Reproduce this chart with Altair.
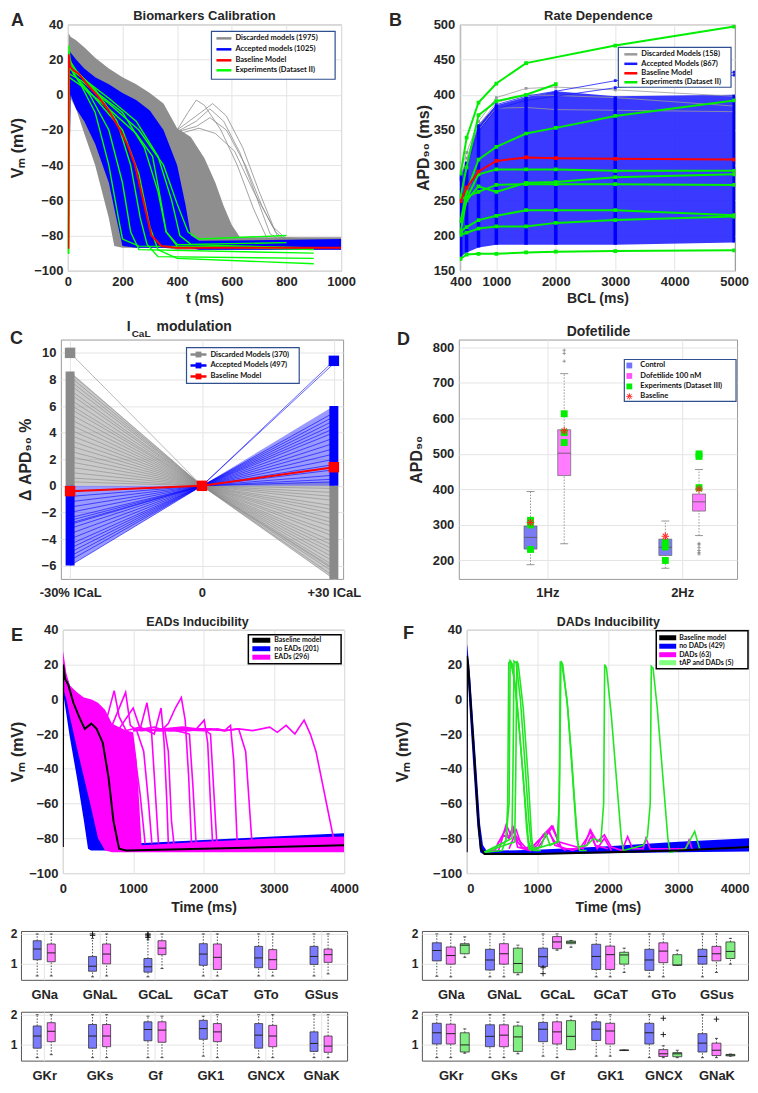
import altair as alt
import pandas as pd

FONT = "Liberation Sans"
LFONT = "Lato"
INK = "#262626"
LEGBOX = "#2f4f8f"
HLINE = "M-1,0L1,0"
PLUS = "M-1,0L1,0M0,-1L0,1"
AST = ("M-1,-0.14H1V0.14H-1Z M-0.14,-1H0.14V1H-0.14Z "
       "M-0.615,-0.785L0.785,0.615L0.615,0.785L-0.785,-0.615Z "
       "M-0.615,0.785L0.785,-0.615L0.615,-0.785L-0.785,0.615Z")

# ---------------- A: Biomarkers Calibration ----------------
A_GROUPS = ["Discarded models (1975)", "Accepted models (1025)", "Baseline Model", "Experiments (Dataset II)"]
A_COLORS = ["#8c8c8c", "#0000ff", "#ff0000", "#00ff00"]
A_GREY_T = [0, 3, 10, 30, 60, 100, 150, 170, 200, 250, 300, 350, 400, 450, 500, 540, 570, 600, 630, 700, 1000]
A_GREY_LO = [-88, -88, -2, -8, -22, -40, -70, -86, -87, -87, -87, -87, -88, -88, -88, -88, -88, -88, -88, -88, -88]
A_GREY_HI = [-80, 35, 33, 31, 27, 21, 15, 13, 10, 6, 1, -5, -19, -24, -36, -50, -63, -74, -81, -81, -81]
A_BLUE_T = [0, 3, 10, 30, 60, 100, 150, 180, 200, 250, 300, 350, 400, 430, 450, 480, 1000]
A_BLUE_LO = [-87, -87, 0, -8, -15, -28, -50, -72, -86, -87, -87, -87, -87, -87, -87, -88, -88]
A_BLUE_HI = [-87, 25, 24, 20, 15, 10, 6, 3, 1, -3, -9, -20, -40, -62, -80, -83, -82]
A_LATE_T = [
    [400, 440, 470, 500, 560, 620, 680, 730, 1000],
    [400, 470, 530, 580, 640, 700, 760, 800, 1000],
    [400, 470, 520, 570, 630, 690, 740, 780, 1000],
    [400, 470, 520, 580, 650, 710, 770, 1000],
    [410, 480, 540, 610, 680, 750, 800, 1000],
]
A_LATE_V = [
    [-20, -10, -3, -6, -20, -40, -65, -82, -83],
    [-20, -12, -5, -12, -30, -55, -78, -83, -83],
    [-21, -15, -8, -15, -33, -58, -79, -83, -83],
    [-21, -18, -13, -20, -40, -63, -81, -83],
    [-22, -19, -22, -32, -55, -75, -82, -83],
]
A_EXP_T = [
    [0, 2, 4, 10, 50, 100, 150, 185, 200, 260, 900],
    [0, 2, 4, 20, 80, 150, 200, 230, 260, 900],
    [0, 2, 4, 20, 100, 180, 230, 265, 290, 330, 900],
    [0, 2, 4, 30, 100, 200, 260, 300, 330, 400, 900],
    [0, 2, 4, 30, 100, 200, 280, 330, 360, 400, 900],
    [0, 2, 4, 50, 150, 250, 330, 380, 410, 450, 800],
    [0, 2, 4, 50, 150, 260, 350, 400, 440, 480, 800],
    [0, 2, 4, 50, 150, 250, 310, 340, 360, 400, 900],
]
A_EXP_V = [
    [-90, -90, 28, 15, 5, -10, -40, -70, -82, -86, -87],
    [-90, -90, 20, 12, 0, -20, -50, -78, -88, -90],
    [-90, -90, 22, 15, 3, -15, -40, -70, -85, -92, -93],
    [-90, -90, 18, 10, -2, -20, -45, -75, -88, -93, -96],
    [-90, -90, 20, 14, 2, -10, -30, -55, -78, -86, -88],
    [-90, -90, 15, 10, -2, -15, -35, -60, -80, -85, -84],
    [-90, -90, 12, 8, -5, -20, -40, -62, -78, -82, -80],
    [-90, -90, 10, 5, -8, -22, -35, -60, -78, -85, -87],
]
A_RED_T = [0, 2, 3, 8, 20, 40, 70, 106, 150, 191, 220, 246, 276, 306, 343, 400, 1000]
A_RED_V = [-87, -87, 23, 16, 14, 12, 6, 0, -9, -20, -29, -40, -60, -80, -86, -87, -87]

# ---------------- B: Rate Dependence ----------------
B_GROUPS = ["Discarded Models (158)", "Accepted Models (867)", "Baseline Model", "Experiments (Dataset II)"]
B_COLORS = ["#9a9a9a", "#1a1aff", "#ff0000", "#00ee00"]
B_BCL = [400, 500, 700, 1000, 1500, 2000, 3000, 5000]
B_BLUE_LO = [170, 176, 183, 187, 187, 187, 187, 190]
B_BLUE_HI = [287, 305, 358, 385, 397, 405, 398, 400]
B_GREY = [
    [292, 318, 362, 396, 409, 411, 407, 398],
    [284, 310, 356, 389, 400, 399, 396, 384],
    [278, 303, 350, 381, 382, 379, 378, 376],
]
B_BLUE_LINES = [
    [282, 300, 352, 386, 398, 405, 420, 432],
    [280, 298, 348, 380, 392, 398, 410, 428],
]
B_EXP = [
    [288, 339, 389, 416, 445, None, 470, 497],
    [256, 297, 371, 391, 400, 415, None, None],
    [221, 262, 308, 326, 345, 353, 370, 392],
    [205, 253, 287, 294, 294, 294, 292, 292],
    [220, 250, 270, 262, 275, 276, 283, 287],
    [252, 255, 262, 272, 273, 273, 273, 272],
    [206, 212, 222, 228, 236, 236, 236, 229],
    [201, 204, 210, 213, 213, 218, 222, 227],
    [167, 173, 174, 174, 176, 177, 178, 179],
]
B_RED = [249, 268, 291, 306, 311, 310, 309, 308]

# ---------------- C: ICaL modulation ----------------
C_GROUPS = ["Discarded Models (370)", "Accepted Models (497)", "Baseline Model"]
C_COLORS = ["#8a8a8a", "#0000ff", "#ff0000"]
C_POS = [-1, 0, 1]
C_GREY_L = [10, 8.5, 8.2, 7.9, 7.6, 7.2, 6.9, 6.5, 6.1, 5.8, 5.4, 5.0, 4.6, 4.2, 3.8, 3.4, 3.0, 2.6, 2.2, 1.8, 1.4, 1.0, 0.6, 0.3]
C_GREY_R = [-6.2, -7.0, -6.8, -6.5, -6.3, -6.0, -5.7, -5.4, -5.1, -4.8, -4.5, -4.2, -3.8, -3.5, -3.1, -2.8, -2.5, -2.1, -1.8, -1.5, -1.1, -0.8, -0.5, -0.2]
C_BLUE_L = [-6.0, -5.6, -5.3, -5.0, -4.7, -4.4, -4.0, -3.6, -3.2, -2.8, -2.4, -2.0, -1.6, -1.2, -0.8, -0.4, -2.6, -2.9]
C_BLUE_R = [5.5, 5.2, 4.9, 4.6, 4.3, 4.0, 3.6, 3.2, 2.8, 2.4, 2.0, 1.6, 1.2, 0.8, 0.5, 0.3, 9.2, 9.4]
C_RED = [-0.4, 0, 1.4]
C_FAN_GREY = [([-1, 0], [0, 0], [8.6, 0]), ([0, 1], [0, -7], [0, 0.3])]
C_FAN_BLUE = [([-1, 0], [-6, 0], [0, 0]), ([0, 1], [0, 0], [0, 6])]
C_BAR_X = [-1, -1, 1, 1]
C_BAR_LO = [0, -6, 0, -7]
C_BAR_HI = [8.6, 0, 6, 0]
C_BAR_G = [0, 1, 1, 0]
C_SQ_X = [-1, 1, -1, 0, 1]
C_SQ_Y = [10, 9.4, -0.4, 0, 1.4]
C_SQ_G = [0, 1, 2, 2, 2]

# ---------------- D: Dofetilide ----------------
D_GROUPS = ["Control", "Dofetilide 100 nM", "Experiments (Dataset III)", "Baseline"]
D_COLORS = ["#7373ff", "#ff55ff", "#00ee00", "#ff2020"]
D_HZ = [1, 1, 2, 2]
D_GRP = ["Control", "Dofetilide 100 nM", "Control", "Dofetilide 100 nM"]
D_Q1 = [232, 439, 214, 339]
D_MED = [265, 502, 237, 365]
D_Q3 = [297, 568, 260, 387]
D_LO = [188, 247, 178, 270]
D_HI = [394, 726, 311, 456]
D_OUT_HZ = [1, 1, 1, 2, 2, 2, 2, 2, 2]
D_OUT_V = [761, 783, 792, 248, 244, 236, 228, 222, 218]
D_EXP_HZ = [1, 1, 1, 1, 1, 1, 1, 2, 2, 2, 2, 2, 2, 2]
D_EXP_G = ["Control"] * 4 + ["Dofetilide 100 nM"] * 3 + ["Control"] * 4 + ["Dofetilide 100 nM"] * 3
D_EXP_V = [313, 305, 300, 231, 613, 560, 532, 250, 243, 238, 200, 500, 493, 405]
D_BASE_HZ = [1, 1, 2, 2]
D_BASE_G = ["Control", "Dofetilide 100 nM", "Control", "Dofetilide 100 nM"]
D_BASE_V = [307, 565, 268, 401]

# ---------------- E: EADs ----------------
E_GROUPS = ["Baseline model", "no EADs (201)", "EADs (296)"]
E_COLORS = ["#000000", "#0000ff", "#ff00ff"]
E_BLUE_T = [0, 3, 10, 100, 200, 300, 358, 400, 450, 500, 570, 700, 1000, 2000, 3000, 4000]
E_BLUE_LO = [-85, -85, 2, -22, -45, -70, -86, -87, -87, -87, -87, -87, -87, -87, -87, -87]
E_BLUE_HI = [-85, 20, 18, 8, -2, -15, -22, -24, -35, -60, -84, -84, -83, -81, -79, -77]
E_MAG_T = [0, 3, 10, 50, 100, 200, 300, 400, 500, 600, 700, 900, 1000, 1050, 1120, 2000, 3000, 4000]
E_MAG_LO = [-85, -85, 5, 0, -10, -28, -45, -62, -80, -87, -88, -88, -88, -88, -88, -88, -88, -88]
E_MAG_HI = [-85, 28, 26, 15, 8, 4, 1, 0, -2, -6, -14, -18, -19, -35, -84, -82, -80, -79]
E_EAD_T = [
    [600, 730, 800, 900, 1000, 1100, 1170],
    [700, 893, 960, 1050, 1150, 1220, 1266],
    [800, 1000, 1100, 1196, 1260, 1310, 1360],
    [900, 1100, 1300, 1397, 1440, 1480, 1500],
    [1000, 1300, 1450, 1500, 1545, 1580],
    [1000, 1400, 1500, 1600, 1685, 1740, 1790, 1830],
    [1100, 1500, 1700, 1800, 1850, 1895],
    [1200, 1700, 1900, 2011, 2060, 2100, 2130],
    [1300, 1800, 2000, 2100, 2150, 2190],
    [1400, 2000, 2200, 2300, 2384, 2430, 2480],
    [1500, 2100, 2300, 2500, 2600, 2690],
    [1000, 1500, 2000, 2300, 2500, 2700, 2942, 3050, 3175, 3300, 3431, 3520, 3600, 3700, 3800, 3850],
]
E_EAD_V = [
    [-15, 5, -10, -18, -25, -55, -83],
    [-15, 4, -15, -18, -30, -60, -83],
    [-17, -5, -17, -2, -18, -50, -83],
    [-18, -16, -20, -5, -25, -60, -83],
    [-18, -16, -18, -30, -70, -83],
    [-17, -18, -14, -5, 1, -12, -45, -83],
    [-18, -17, -19, -20, -50, -83],
    [-18, -16, -17, -12, -25, -60, -83],
    [-18, -18, -17, -20, -55, -83],
    [-17, -18, -17, -18, -15, -35, -83],
    [-18, -17, -18, -17, -30, -83],
    [-18, -17, -17, -18, -17, -18, -16, -19, -15, -20, -12, -20, -30, -50, -70, -80],
]
E_BASE_T = [0, 5, 30, 80, 150, 230, 312, 405, 480, 568, 650, 720, 800, 900, 2000, 3000, 4000]
E_BASE_V = [-85, 20, 12, 8, -2, -10, -17, -14, -17, -25, -45, -70, -86, -87, -86, -85, -84]

# ---------------- F: DADs ----------------
F_GROUPS = ["Baseline model", "no DADs (429)", "DADs (63)", "tAP and DADs (5)"]
F_COLORS = ["#000000", "#0000ff", "#ff00ff", "#22e622"]
F_LEG_COLORS = ["#000000", "#0000ff", "#ff00ff", "#80ff80"]
F_BLUE_T = [0, 3, 10, 50, 100, 150, 190, 230, 280, 500, 1000, 2000, 3000, 4000]
F_BLUE_LO = [-88, -88, 15, -12, -43, -73, -88, -89, -89, -89, -89, -88.5, -88, -87.5]
F_BLUE_HI = [-88, 32, 30, 12, -18, -48, -72, -84, -87, -87, -86.5, -84.5, -82, -80]
F_BASE_T = [0, 3, 20, 60, 110, 160, 200, 250, 1000, 2000, 3000, 4000]
F_BASE_V = [-88, 25, 20, -5, -35, -68, -86, -89, -89, -88, -87, -85]
F_DAD_T = [
    [250, 400, 450, 500, 560, 620, 700, 780, 900, 1000, 1100, 1200, 1280, 1350, 1600, 1700, 1760, 1820, 2000],
    [400, 480, 550, 600, 660, 720, 800, 950, 1050, 1150, 1250, 1400],
    [600, 680, 760, 850, 1000, 1100, 1220, 1300, 1650, 1750, 1850, 1950, 2050, 2200, 2280, 2350, 2500, 2540, 2600, 3100, 3150, 3200],
    [450, 520, 600, 650, 720, 900, 1000, 1080, 1160, 1250, 1500, 1700, 1760, 1850, 1950, 2050],
]
F_DAD_V = [
    [-88, -87, -82, -80, -72, -78, -75, -85, -87, -82, -78, -73, -80, -86, -86, -80, -76, -84, -86],
    [-87, -80, -75, -80, -74, -82, -86, -84, -80, -76, -82, -87],
    [-86, -78, -82, -86, -86, -80, -73, -82, -86, -75, -82, -78, -85, -87, -79, -86, -86, -80, -86, -86, -81, -87],
    [-87, -78, -80, -73, -85, -87, -84, -78, -75, -84, -87, -84, -79, -86, -80, -87],
]
F_TAP_T = [
    [250, 500, 560, 580, 595, 620, 680, 750, 820, 870, 900, 1050, 1120, 1180, 1280, 1310, 1325, 1350, 1420, 1480,
     1540, 1580, 1700, 1800, 1900, 1940, 1955, 1980, 2050, 2120, 2190, 2220, 2500, 2560, 2600, 2615, 2640, 2700,
     2780, 2850, 2880, 3100, 3230, 3300],
    [250, 550, 600, 615, 650, 720, 800, 850, 880, 1000],
    [250, 640, 655, 670, 700, 760, 830, 880, 920, 1000],
    [250, 680, 695, 710, 730, 800, 870, 920, 950, 1050],
    [900, 1300, 1318, 1335, 1360, 1430, 1500, 1560, 1600, 1700],
]
F_TAP_V = [
    [-88, -87, -80, -60, 21, 22, 10, -20, -55, -80, -86, -85, -77, -84, -82, -60, 21, 20, 0, -30,
     -65, -85, -84, -80, -82, -60, 20, 18, -10, -45, -80, -87, -84, -79, -60, 19, 18, -5,
     -45, -80, -88, -86, -76, -86],
    [-88, -82, -60, 22, 20, -5, -45, -75, -86, -87],
    [-88, -80, -40, 22, 21, 0, -40, -70, -86, -87],
    [-88, -82, -40, 22, 20, -5, -45, -80, -87, -87],
    [-87, -82, -40, 22, 20, -5, -45, -80, -87, -87],
]

# ---------------- Conductance box plots ----------------
S1_CATS = ["GNa", "GNaL", "GCaL", "GCaT", "GTo", "GSus"]
S2_CATS = ["GKr", "GKs", "Gf", "GK1", "GNCX", "GNaK"]
L_GROUPS = ["no EADs", "EADs"]
R_GROUPS = ["no DADs", "DADs", "tAP and DADs"]
L1_BLUE = dict(q1=[1.13, 0.74, 0.71, 0.94, 0.86, 0.97], med=[1.49, 0.91, 0.89, 1.32, 1.19, 1.24],
               q3=[1.77, 1.24, 1.17, 1.67, 1.58, 1.58], lo=[0.58, 0.55, 0.55, 0.58, 0.58, 0.58],
               hi=[2.0, 1.85, 1.8, 2.0, 2.0, 2.0])
L1_PINK = dict(q1=[1.06, 0.99, 1.30, 0.80, 0.80, 1.04], med=[1.36, 1.32, 1.52, 1.21, 1.13, 1.30],
               q3=[1.66, 1.66, 1.77, 1.66, 1.47, 1.49], lo=[0.58, 0.58, 0.83, 0.58, 0.58, 0.65],
               hi=[2.0, 2.0, 2.0, 2.0, 2.0, 2.0])
L1_OUT_CAT = [2, 2, 3, 3, 3, 3]
L1_OUT_GRP = ["no EADs", "no EADs", "no EADs", "no EADs", "no EADs", "no EADs"]
L1_OUT_V = [1.95, 2.0, 1.88, 1.93, 1.97, 2.0]
L2_BLUE = dict(q1=[0.87, 0.87, 1.12, 1.17, 0.87, 0.76], med=[1.28, 1.28, 1.50, 1.53, 1.31, 1.03],
               q3=[1.62, 1.67, 1.76, 1.81, 1.70, 1.42], lo=[0.55, 0.55, 0.55, 0.60, 0.55, 0.55],
               hi=[2.0, 2.0, 1.95, 1.95, 2.0, 2.0])
L2_PINK = dict(q1=[1.09, 0.92, 1.07, 1.09, 0.92, 0.73], med=[1.44, 1.28, 1.48, 1.42, 1.28, 0.94],
               q3=[1.73, 1.67, 1.76, 1.70, 1.64, 1.28], lo=[0.65, 0.55, 0.55, 0.55, 0.55, 0.55],
               hi=[2.0, 2.0, 1.95, 2.0, 2.0, 2.0])
R1_BLUE = dict(q1=[1.09, 0.78, 0.90, 0.80, 0.77, 0.98], med=[1.44, 1.12, 1.23, 1.24, 1.12, 1.24],
               q3=[1.70, 1.48, 1.52, 1.65, 1.48, 1.48], lo=[0.57, 0.55, 0.90, 0.55, 0.55, 0.55],
               hi=[2.0, 2.0, 2.0, 2.0, 2.0, 2.0])
R1_PINK = dict(q1=[0.98, 0.98, 1.50, 0.80, 1.03, 1.09], med=[1.27, 1.33, 1.73, 1.30, 1.42, 1.33],
               q3=[1.56, 1.67, 1.91, 1.59, 1.70, 1.58], lo=[0.55, 0.55, 1.45, 0.55, 0.55, 0.70],
               hi=[2.0, 2.0, 2.0, 2.0, 2.0, 2.0])
R1_GREEN = dict(q1=[1.33, 0.69, 1.67, 0.98, 0.94, 1.17], med=[1.62, 1.00, 1.72, 1.29, 0.95, 1.41],
                q3=[1.67, 1.52, 1.76, 1.38, 1.30, 1.73], lo=[1.21, 0.62, 1.55, 0.70, 0.94, 0.98],
                hi=[1.90, 1.62, 1.78, 1.52, 1.45, 1.85])
R1_OUT_CAT = [3, 3]
R1_OUT_GRP = ["no DADs", "no DADs"]
R1_OUT_V = [0.86, 0.66]
R2_BLUE = dict(q1=[1.01, 0.92, 1.09, 1.13, 1.01, 0.74], med=[1.39, 1.27, 1.51, 1.51, 1.39, 1.04],
               q3=[1.71, 1.66, 1.74, 1.76, 1.71, 1.36], lo=[0.55, 0.55, 0.60, 0.60, 0.55, 0.55],
               hi=[2.0, 2.0, 2.0, 2.0, 2.0, 2.0])
R2_PINK = dict(q1=[1.01, 0.92, 1.01, 1.01, 0.59, 0.62], med=[1.36, 1.31, 1.42, 1.45, 0.68, 0.80],
               q3=[1.68, 1.66, 1.76, 1.71, 0.82, 1.04], lo=[0.55, 0.55, 0.55, 0.60, 0.55, 0.55],
               hi=[2.0, 2.0, 2.0, 2.0, 0.95, 1.20])
R2_GREEN = dict(q1=[0.74, 0.76, 0.82, 0.79, 0.58, 0.61], med=[0.98, 1.25, 1.27, 0.80, 0.68, 0.64],
                q3=[1.39, 1.62, 1.80, 0.81, 0.72, 0.66], lo=[0.70, 0.68, 0.82, 0.79, 0.55, 0.60],
                hi=[1.52, 1.75, 1.95, 0.81, 0.80, 0.67])
R2_OUT_CAT = [5, 5, 6]
R2_OUT_GRP = ["DADs", "DADs", "DADs"]
R2_OUT_V = [1.33, 1.88, 1.85]


# ================= helpers =================
def tr(xs_list, ys_list, grp):
    rows = []
    for k, (xs, ys) in enumerate(zip(xs_list, ys_list)):
        for i, (a, b) in enumerate(zip(xs, ys)):
            if b is None:
                continue
            rows.append({"x": a, "y": b, "id": f"{grp}-{k}", "grp": grp, "o": i})
    return pd.DataFrame(rows)


def env(xs, lo, hi):
    return pd.DataFrame({"x": xs, "y": lo, "y2": hi})


def X(dom, values, title=None, field="x", **kw):
    ax = dict(title=title, values=values, labelFlush=False, labelPadding=5, titlePadding=3, grid=True, format="d")
    ax.update(kw)
    return alt.X(f"{field}:Q", scale=alt.Scale(domain=dom, nice=False, zero=False), axis=alt.Axis(**ax))


def Y(dom, values, title=None, field="y", **kw):
    ax = dict(title=title, values=values, labelPadding=5, titlePadding=6, grid=True)
    ax.update(kw)
    return alt.Y(f"{field}:Q", scale=alt.Scale(domain=dom, nice=False, zero=False), axis=alt.Axis(**ax))


ONE = pd.DataFrame({"k": [0]})


def note(s, x, y, size=18, baseline="top", align="left", opacity=1, font=FONT, color=INK):
    return alt.Chart(pd.DataFrame({"s": [s]})).mark_text(
        font=font, fontSize=size, fontWeight="bold", color=color, align=align, baseline=baseline, opacity=opacity
    ).encode(text="s:N", x=alt.value(x), y=alt.value(y))


def head(s, x, y, size):
    return note(s, x, y, size=size, baseline="alphabetic", align="center")


def spacer(y):
    return note(".", 0, y, size=2, opacity=0)


def legend(box, labels, colors, kinds, ys, sx, tx, fs=7.5, stroke=LEGBOX, sw=1.2, lw=2.5):
    """Hand-drawn legend box; positions in pixels relative to the panel's plot area."""
    x0, x1, y0, y1 = box
    out = [alt.Chart(ONE).mark_rect(fill="white", stroke=stroke, strokeWidth=sw).encode(
        x=alt.value(x0), x2=alt.value(x1), y=alt.value(y0), y2=alt.value(y1))]
    for lab, col, kind, yy in zip(labels, colors, kinds, ys):
        if kind in ("line", "linesq"):
            out.append(alt.Chart(ONE).mark_rule(color=col, strokeWidth=lw).encode(
                x=alt.value(sx[0]), x2=alt.value(sx[1]), y=alt.value(yy)))
        if kind in ("linesq", "square"):
            out.append(alt.Chart(ONE).mark_square(color=col, size=34, opacity=1).encode(
                x=alt.value((sx[0] + sx[1]) / 2), y=alt.value(yy)))
        if kind == "ast":
            out.append(alt.Chart(ONE).mark_point(shape=AST, color=col, size=40, filled=True, opacity=1).encode(
                x=alt.value((sx[0] + sx[1]) / 2), y=alt.value(yy)))
        out.append(note(lab, tx, yy, size=fs, baseline="middle", font=LFONT, color="#111"))
    return out


def anchor():
    """Invisible 1px cell that starts every row, so rows line up by their outer left edge."""
    return alt.Chart(ONE).mark_rule(opacity=0, strokeWidth=0.1).encode(
        x=alt.value(0.5), y=alt.value(0), y2=alt.value(1)
    ).properties(width=1, height=1, view=alt.ViewBackground(strokeOpacity=0))


# ================= Panel A =================
xa = lambda: X([0, 1000], [0, 200, 400, 600, 800, 1000], "t (ms)", titleFontSize=14)
ya = lambda: Y([-100, 40], list(range(-100, 41, 20)), "Vₘ (mV)", titleFontSize=16, titlePadding=8)
colA = alt.Color("grp:N", scale=alt.Scale(domain=A_GROUPS, range=A_COLORS), legend=None)
A = alt.layer(
    alt.Chart(env(A_GREY_T, A_GREY_LO, A_GREY_HI)).mark_area(color="#8e8e8e", clip=True).encode(x=xa(), y=ya(), y2="y2:Q"),
    alt.Chart(tr(A_LATE_T, A_LATE_V, A_GROUPS[0])).mark_line(strokeWidth=0.8, clip=True).encode(
        x=xa(), y=ya(), detail="id:N", order="o:Q", color=colA),
    alt.Chart(env(A_BLUE_T, A_BLUE_LO, A_BLUE_HI)).mark_area(color="#0000ff", clip=True).encode(x=xa(), y=ya(), y2="y2:Q"),
    alt.Chart(tr(A_EXP_T, A_EXP_V, A_GROUPS[3])).mark_line(strokeWidth=1.4, clip=True).encode(
        x=xa(), y=ya(), detail="id:N", order="o:Q", color=colA),
    alt.Chart(tr([A_RED_T], [A_RED_V], A_GROUPS[2])).mark_line(strokeWidth=2, clip=True).encode(
        x=xa(), y=ya(), detail="id:N", order="o:Q", color=colA),
    *legend((144, 268, 7, 55), A_GROUPS, A_COLORS, ["line"] * 4, [14, 25, 36, 46], (149, 164), 168),
    note("A", -57, -12),
    head("Biomarkers Calibration", 137, -4, 13),
    spacer(287),
).properties(width=274, height=247)

# ================= Panel B =================
xb = lambda: X([385, 5015], [400, 1000, 2000, 3000, 4000, 5000], "BCL (ms)", titleFontSize=14)
yb = lambda: Y([150, 500], list(range(150, 501, 50)), "APD₉₀ (ms)", titleFontSize=16, titlePadding=2)
colB = alt.Color("grp:N", scale=alt.Scale(domain=B_GROUPS, range=B_COLORS), legend=None)


def bline(rows, grp, sw, ps):
    return alt.Chart(tr([B_BCL] * len(rows), rows, grp)).mark_line(
        strokeWidth=sw, clip=True, point=alt.OverlayMarkDef(shape="square", size=ps, filled=True)
    ).encode(x=xb(), y=yb(), detail="id:N", order="o:Q", color=colB)


B = alt.layer(
    alt.Chart(env(B_BCL, B_BLUE_LO, B_BLUE_HI)).mark_area(color="#2424ff", opacity=0.9, clip=True).encode(x=xb(), y=yb(), y2="y2:Q"),
    bline(B_GREY, B_GROUPS[0], 0.8, 8),
    bline(B_BLUE_LINES, B_GROUPS[1], 0.8, 8),
    alt.Chart(env(B_BCL, B_BLUE_LO, B_BLUE_HI)).mark_rule(color="#0000ff", strokeWidth=3.5, clip=True).encode(x=xb(), y=yb(), y2="y2:Q"),
    bline(B_EXP, B_GROUPS[3], 2, 14),
    bline([B_RED], B_GROUPS[2], 2, 14),
    *legend((159, 272, 23, 63), B_GROUPS, B_COLORS, ["line"] * 4, [30, 39.5, 49, 58], (165, 178), 182),
    note("B", -71, -12),
    head("Rate Dependence", 139, -4, 13),
).properties(width=276, height=247)

# ================= Panel C =================
xc = lambda: X([-1.07, 1.07], [-1, 0, 1], None, labelPadding=8, format="",
               labelExpr="datum.value < 0 ? '-30% ICaL' : (datum.value > 0 ? '+30 ICaL' : '0')")
yc = lambda: Y([-7, 11], list(range(-6, 11, 2)), "Δ APD₉₀ %", titleFontSize=16, titlePadding=8)
colC = alt.Color("grp:N", scale=alt.Scale(domain=C_GROUPS, range=C_COLORS), legend=None)


def fan(parts, color):
    return [alt.Chart(env(*p)).mark_area(color=color, opacity=0.45, clip=True).encode(x=xc(), y=yc(), y2="y2:Q")
            for p in parts]


def cfan(left, right, grp, color):
    xs = [C_POS] * len(left)
    ys = [[l, 0, r] for l, r in zip(left, right)]
    return alt.Chart(tr(xs, ys, grp)).mark_line(strokeWidth=0.6, color=color, clip=True).encode(
        x=xc(), y=yc(), detail="id:N", order="o:Q")


bars = pd.DataFrame({"x": C_BAR_X, "y": C_BAR_LO, "y2": C_BAR_HI, "g": [C_GROUPS[i] for i in C_BAR_G]})
sq = pd.DataFrame({"x": C_SQ_X, "y": C_SQ_Y, "grp": [C_GROUPS[i] for i in C_SQ_G]})
C = alt.layer(
    *fan(C_FAN_GREY, "#8a8a8a"),
    cfan(C_GREY_L, C_GREY_R, "grey", "#8a8a8a"),
    *fan(C_FAN_BLUE, "#2020ff"),
    cfan(C_BLUE_L, C_BLUE_R, "blue", "#0000ff"),
    alt.Chart(bars).transform_filter(f"datum.g == '{C_GROUPS[0]}'").mark_rule(color="#8a8a8a", strokeWidth=9, clip=True).encode(
        x=xc(), y=yc(), y2="y2:Q"),
    alt.Chart(bars).transform_filter(f"datum.g == '{C_GROUPS[1]}'").mark_rule(color="#0000ff", strokeWidth=9, clip=True).encode(
        x=xc(), y=yc(), y2="y2:Q"),
    alt.Chart(tr([C_POS], [C_RED], "red")).mark_line(strokeWidth=2, color="#ff0000").encode(x=xc(), y=yc(), order="o:Q"),
    alt.Chart(sq).mark_square(size=110, opacity=1).encode(x=xc(), y=yc(), color=colC),
    *legend((126, 239, 8, 44), C_GROUPS, C_COLORS, ["linesq"] * 3, [15, 26, 37], (130, 146), 150),
    note("C", -51, -10),
    note("I", 66, -9, size=14, baseline="alphabetic"),
    note("CaL", 71, -3, size=10, baseline="alphabetic"),
    note("modulation", 96, -9, size=14, baseline="alphabetic"),
    spacer(268),
).properties(width=283, height=240)

# ================= Panel D =================
D_OFF = {"Control": -0.125, "Dofetilide 100 nM": 0.125}
xd = lambda: X([0.38, 2.37], [1, 2], None, field="xp", labelPadding=8, format="",
               labelExpr="datum.value == 1 ? '1Hz' : '2Hz'")
yd = lambda f: Y([148, 822], list(range(200, 801, 100)), "APD₉₀", field=f, titleFontSize=16, titlePadding=8)
dbox = pd.DataFrame({"xp": [h + D_OFF[g] for h, g in zip(D_HZ, D_GRP)], "grp": D_GRP,
                     "q1": D_Q1, "med": D_MED, "q3": D_Q3, "lo": D_LO, "hi": D_HI})
dout = pd.DataFrame({"xp": [h + D_OFF["Dofetilide 100 nM"] for h in D_OUT_HZ], "v": D_OUT_V})
dexp = pd.DataFrame({"xp": [h + D_OFF[g] for h, g in zip(D_EXP_HZ, D_EXP_G)], "v": D_EXP_V})
dbase = pd.DataFrame({"xp": [h + D_OFF[g] for h, g in zip(D_BASE_HZ, D_BASE_G)], "v": D_BASE_V})
D = alt.layer(
    alt.Chart(dbox).mark_rule(color="#8a8a8a", strokeDash=[1.5, 1.5], strokeWidth=0.9).encode(x=xd(), y=yd("lo"), y2="q1:Q"),
    alt.Chart(dbox).mark_rule(color="#8a8a8a", strokeDash=[1.5, 1.5], strokeWidth=0.9).encode(x=xd(), y=yd("q3"), y2="hi:Q"),
    alt.Chart(dbox).mark_point(shape=HLINE, size=64, color="#8a8a8a", strokeWidth=0.9, filled=False, opacity=1).encode(x=xd(), y=yd("lo")),
    alt.Chart(dbox).mark_point(shape=HLINE, size=64, color="#8a8a8a", strokeWidth=0.9, filled=False, opacity=1).encode(x=xd(), y=yd("hi")),
    alt.Chart(dbox).mark_bar(size=13, stroke="#666", strokeWidth=0.7).encode(
        x=xd(), y=yd("q1"), y2="q3:Q",
        fill=alt.Fill("grp:N", scale=alt.Scale(domain=D_GROUPS[:2], range=["#7b7bf5", "#ff7bff"]), legend=None)),
    alt.Chart(dbox).mark_point(shape=HLINE, size=169, color="#555", strokeWidth=0.8, filled=False, opacity=1).encode(x=xd(), y=yd("med")),
    alt.Chart(dout).mark_point(shape=PLUS, size=12, color="#777", strokeWidth=0.7, filled=False, opacity=1).encode(x=xd(), y=yd("v")),
    alt.Chart(dexp).mark_square(color=D_COLORS[2], size=48, opacity=1).encode(x=xd(), y=yd("v")),
    alt.Chart(dbase).mark_point(shape=AST, color=D_COLORS[3], size=56, filled=True, opacity=1).encode(x=xd(), y=yd("v")),
    *legend((166, 278, 20, 62), D_GROUPS, D_COLORS, ["square", "square", "square", "ast"], [26, 36.5, 47, 57],
            (168, 174), 182),
    note("D", -62, -9),
    head("Dofetilide", 140, -4, 14),
).properties(width=279, height=240)

# ================= Panel E =================
xe = lambda: X([0, 4000], [0, 1000, 2000, 3000, 4000], "Time (ms)", titleFontSize=14, labelPadding=9, titlePadding=5)
ye = lambda: Y([-100, 40], list(range(-100, 41, 20)), "Vₘ (mV)", titleFontSize=16, titlePadding=3)
colE = alt.Color("grp:N", scale=alt.Scale(domain=E_GROUPS, range=E_COLORS), legend=None)
E = alt.layer(
    alt.Chart(env(E_BLUE_T, E_BLUE_LO, E_BLUE_HI)).mark_area(color="#0000ff", clip=True).encode(x=xe(), y=ye(), y2="y2:Q"),
    alt.Chart(env(E_MAG_T, E_MAG_LO, E_MAG_HI)).mark_area(color="#ff00ff", clip=True).encode(x=xe(), y=ye(), y2="y2:Q"),
    alt.Chart(tr(E_EAD_T, E_EAD_V, E_GROUPS[2])).mark_line(strokeWidth=1.6, clip=True).encode(
        x=xe(), y=ye(), detail="id:N", order="o:Q", color=colE),
    alt.Chart(tr([E_BASE_T], [E_BASE_V], E_GROUPS[0])).mark_line(strokeWidth=2, clip=True).encode(
        x=xe(), y=ye(), detail="id:N", order="o:Q", color=colE),
    *legend((186, 279, 5, 34), E_GROUPS, E_COLORS, ["line"] * 3, [10.5, 19, 27.5], (190, 208), 212,
            fs=7, stroke="#000", sw=1.5, lw=5),
    note("E", -52, -3),
    head("EADs Inducibility", 135, -4, 12.5),
    spacer(290),
).properties(width=282, height=244)

# ================= Panel F =================
xf = lambda: X([0, 4000], [0, 1000, 2000, 3000, 4000], "Time (ms)", titleFontSize=14, labelPadding=9,
               titlePadding=5, labelFlush=True)
yf = lambda: Y([-100, 40], list(range(-100, 41, 20)), "Vₘ (mV)", titleFontSize=16, titlePadding=22)
colF = alt.Color("grp:N", scale=alt.Scale(domain=F_GROUPS, range=F_COLORS), legend=None)
F = alt.layer(
    alt.Chart(env(F_BLUE_T, F_BLUE_LO, F_BLUE_HI)).mark_area(color="#0000ff", clip=True).encode(x=xf(), y=yf(), y2="y2:Q"),
    alt.Chart(tr(F_DAD_T, F_DAD_V, F_GROUPS[2])).mark_line(strokeWidth=1.6, clip=True).encode(
        x=xf(), y=yf(), detail="id:N", order="o:Q", color=colF),
    alt.Chart(tr(F_TAP_T, F_TAP_V, F_GROUPS[3])).mark_line(strokeWidth=1.6, clip=True).encode(
        x=xf(), y=yf(), detail="id:N", order="o:Q", color=colF),
    alt.Chart(tr([F_BASE_T], [F_BASE_V], F_GROUPS[0])).mark_line(strokeWidth=2, clip=True).encode(
        x=xf(), y=yf(), detail="id:N", order="o:Q", color=colF),
    *legend((190, 282, 1, 39), F_GROUPS, F_LEG_COLORS, ["line"] * 4, [8, 16.5, 25, 33], (193, 210), 213,
            fs=7, stroke="#000", sw=1.5, lw=5),
    note("F", -64, -5),
    head("DADs Inducibility", 142, -4, 12.5),
).properties(width=283, height=244)


# ================= Box strips =================
def strip(cats, groups, fills, stats, offs, xdom, bw, gridx, out_cat, out_grp, out_v):
    rows = []
    for g, st in zip(groups, stats):
        for i in range(len(cats)):
            rows.append(dict(xp=i + 1 + offs[g], grp=g, q1=st["q1"][i], med=st["med"][i],
                             q3=st["q3"][i], lo=st["lo"][i], hi=st["hi"][i]))
    df = pd.DataFrame(rows)
    labexpr = "[" + ",".join(f"'{c}'" for c in cats) + "][datum.value - 1]"
    xs = lambda: X(xdom, [1, 2, 3, 4, 5, 6], None, field="xp", labelExpr=labexpr, labelPadding=9, grid=gridx, format="")
    ys = lambda f: Y([0.45, 2.1], [1, 2], None, field=f, labelPadding=4, labelFontSize=12)
    base = alt.Chart(df)
    layers = [
        base.mark_rule(color="#222", strokeDash=[1.5, 1.5], strokeWidth=0.8).encode(x=xs(), y=ys("lo"), y2="q1:Q"),
        base.mark_rule(color="#222", strokeDash=[1.5, 1.5], strokeWidth=0.8).encode(x=xs(), y=ys("q3"), y2="hi:Q"),
        base.mark_point(shape=HLINE, size=9, color="#222", strokeWidth=0.8, filled=False, opacity=1).encode(x=xs(), y=ys("lo")),
        base.mark_point(shape=HLINE, size=9, color="#222", strokeWidth=0.8, filled=False, opacity=1).encode(x=xs(), y=ys("hi")),
        base.mark_bar(size=bw, stroke="#333", strokeWidth=0.8).encode(
            x=xs(), y=ys("q1"), y2="q3:Q",
            fill=alt.Fill("grp:N", scale=alt.Scale(domain=groups, range=fills), legend=None)),
        base.mark_point(shape=HLINE, size=bw * bw, color="#222", strokeWidth=1, filled=False, opacity=1).encode(x=xs(), y=ys("med")),
    ]
    if out_v:
        odf = pd.DataFrame({"xp": [c + offs[g] for c, g in zip(out_cat, out_grp)], "v": out_v})
        layers.append(alt.Chart(odf).mark_point(shape=PLUS, size=30, color="#111", strokeWidth=0.9, filled=False,
                                                opacity=1).encode(x=xs(), y=ys("v")))
    return alt.layer(*layers).properties(width=327, height=49, view=alt.ViewBackground(stroke="#555"))


L_OFF = {"no EADs": -0.127, "EADs": 0.127}
R_OFF = {"no DADs": -0.263, "DADs": 0.0, "tAP and DADs": 0.263}
L_FILL = ["#7b7bff", "#ff7bff"]
R_FILL = ["#7b7bff", "#ff7bff", "#80ee80"]
S1L = strip(S1_CATS, L_GROUPS, L_FILL, [L1_BLUE, L1_PINK], L_OFF, [0.67, 6.38], 8, True, L1_OUT_CAT, L1_OUT_GRP, L1_OUT_V)
S2L = strip(S2_CATS, L_GROUPS, L_FILL, [L2_BLUE, L2_PINK], L_OFF, [0.67, 6.38], 8, True, [], [], [])
S1R = strip(S1_CATS, R_GROUPS, R_FILL, [R1_BLUE, R1_PINK, R1_GREEN], R_OFF, [0.55, 6.5], 9, False, R1_OUT_CAT, R1_OUT_GRP, R1_OUT_V)
S2R = strip(S2_CATS, R_GROUPS, R_FILL, [R2_BLUE, R2_PINK, R2_GREEN], R_OFF, [0.55, 6.5], 9, False, R2_OUT_CAT, R2_OUT_GRP, R2_OUT_V)

RES = dict(color="independent", fill="independent")


def row(left, right, gap):
    pair = alt.hconcat(left, right, spacing=gap).resolve_scale(**RES)
    return alt.hconcat(anchor(), pair, spacing=0).resolve_scale(**RES)


top = alt.vconcat(
    row(A, B, 32),
    row(C, D, 34),
    row(E, F, 35),
    row(S1L, S1R, 62),
    row(S2L, S2R, 62),
    spacing=5,
).resolve_scale(**RES)

chart = top.properties(padding=0).configure_axis(
    labelFont=FONT, labelFontSize=13, labelFontWeight="bold", labelColor=INK,
    titleFont=FONT, titleFontWeight="bold", titleColor=INK,
    domain=False, ticks=False, gridColor="#e4e4e4", gridWidth=1,
).configure_view(stroke="#9a9a9a", strokeWidth=1)

chart.save("out.html", embed_options={"renderer": "svg", "actions": False})
